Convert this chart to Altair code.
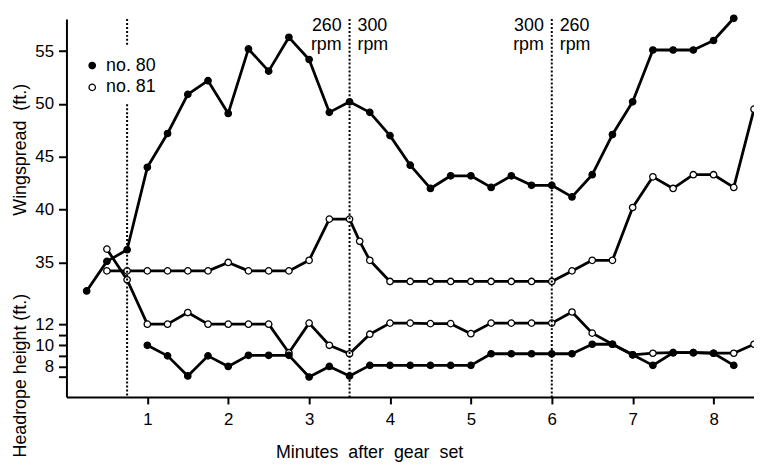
import altair as alt
import pandas as pd

# ---------------- data ----------------
# shift that places headrope feet on the shared (broken) vertical scale
HEAD_OFFSET = 17.16

# Wingspread (ft.) of net no. 80 (filled circles)
w80_min = [0.25, 0.5, 0.75, 1.0, 1.25, 1.5, 1.75, 2.0, 2.25, 2.5, 2.75, 3.0, 3.25, 3.5, 3.75, 4.0, 4.25,
           4.5, 4.75, 5.0, 5.25, 5.5, 5.75, 6.0, 6.25, 6.5, 6.75, 7.0, 7.25, 7.5, 7.75, 8.0, 8.25]
w80_ft = [32.3, 35.1, 36.2, 44.0, 47.2, 50.9, 52.2, 49.1, 55.2, 53.1, 56.3, 54.2, 49.2, 50.2, 49.2, 47.0, 44.2,
          42.0, 43.2, 43.2, 42.1, 43.2, 42.3, 42.3, 41.2, 43.3, 47.1, 50.2, 55.1, 55.1, 55.1, 56.0, 58.1]

# Wingspread (ft.) of net no. 81 (open circles)
w81_min = [0.5, 0.75, 1.0, 1.25, 1.5, 1.75, 2.0, 2.25, 2.5, 2.75, 3.0, 3.25, 3.5, 3.625, 3.75, 4.0, 4.25,
           4.5, 4.75, 5.0, 5.25, 5.5, 5.75, 6.0, 6.25, 6.5, 6.75, 7.0, 7.25, 7.5, 7.75, 8.0, 8.25, 8.5]
w81_ft = [34.2, 34.2, 34.2, 34.2, 34.2, 34.2, 35.0, 34.2, 34.2, 34.2, 35.2, 39.1, 39.1, 37.0, 35.2, 33.2, 33.2,
          33.2, 33.2, 33.2, 33.2, 33.2, 33.2, 33.2, 34.2, 35.2, 35.2, 40.2, 43.1, 42.0, 43.3, 43.3, 42.1, 49.5]

# Headrope height (ft.) of net no. 80
h80_min = [1.0, 1.25, 1.5, 1.75, 2.0, 2.25, 2.5, 2.75, 3.0, 3.25, 3.5, 3.75, 4.0, 4.25, 4.5,
           4.75, 5.0, 5.25, 5.5, 5.75, 6.0, 6.25, 6.5, 6.75, 7.0, 7.25, 7.5, 7.75, 8.0, 8.25]
h80_ft = [10.0, 9.0, 7.1, 9.0, 8.0, 9.05, 9.05, 9.05, 7.0, 8.0, 7.1, 8.1, 8.1, 8.1, 8.1,
          8.1, 8.1, 9.2, 9.2, 9.2, 9.2, 9.2, 10.1, 10.1, 9.1, 8.1, 9.3, 9.3, 9.25, 8.1]

# Headrope height (ft.) of net no. 81
h81_min = [0.5, 0.75, 1.0, 1.25, 1.5, 1.75, 2.0, 2.25, 2.5, 2.75, 3.0, 3.25, 3.5, 3.75, 4.0, 4.25, 4.5,
           4.75, 5.0, 5.25, 5.5, 5.75, 6.0, 6.25, 6.5, 6.75, 7.0, 7.25, 7.5, 7.75, 8.0, 8.25, 8.5]
h81_ft = [19.1, 16.2, 12.0, 12.0, 13.1, 12.0, 12.0, 12.0, 12.0, 9.3, 12.1, 10.0, 9.2, 11.05, 12.1, 12.1, 12.05,
          12.05, 11.1, 12.1, 12.1, 12.1, 12.1, 13.15, 11.15, 10.1, 9.1, 9.25, 9.3, 9.3, 9.25, 9.25, 10.1]

series_names = ["no. 80", "no. 81"]
minute_ticks = [1, 2, 3, 4, 5, 6, 7, 8]
wing_ticks = [35, 40, 45, 50, 55]
head_ticks = [7, 8, 9, 10, 11, 12]
head_labelled = [8, 10, 12]

gear_marker_min = [0.75]
rpm_change_min = [3.5, 6.0]
rpm_before = ["260\nrpm", "300\nrpm"]
rpm_after = ["300\nrpm", "260\nrpm"]

NB = "\u00a0"
x_title = f"Minutes {NB}after {NB}gear {NB}set"
wing_title = f"Wingspread {NB}(ft.)"
head_title = "Headrope height (ft.)"

# ---------------- tables ----------------
Y_LO, Y_HI = 22.27, 58.03
LEGEND_GAP = (55.4, 49.97)

rows = []
for name, kind, xs, vs in [("no. 81", "wing", w81_min, w81_ft), ("no. 81", "head", h81_min, h81_ft),
                           ("no. 80", "wing", w80_min, w80_ft), ("no. 80", "head", h80_min, h80_ft)]:
    for xv, v in zip(xs, vs):
        rows.append({"series": name, "kind": kind, "line": name + " " + kind, "minute": xv, "ft": v,
                     "pos": v + (HEAD_OFFSET if kind == "head" else 0.0)})
df = pd.DataFrame(rows)

rule_rows = []
for m in gear_marker_min:
    rule_rows.append({"minute": m, "pos": Y_HI, "bottom": LEGEND_GAP[0]})
    rule_rows.append({"minute": m, "pos": LEGEND_GAP[1], "bottom": Y_LO})
for m in rpm_change_min:
    rule_rows.append({"minute": m, "pos": Y_HI, "bottom": Y_LO})
rules_df = pd.DataFrame(rule_rows)

before_df = pd.DataFrame({"minute": rpm_change_min, "label": rpm_before})
after_df = pd.DataFrame({"minute": rpm_change_min, "label": rpm_after})

y_values = [t + HEAD_OFFSET for t in head_ticks] + wing_ticks
conds = " : ".join(
    f"abs(datum.value - {t + HEAD_OFFSET:.2f}) < 0.05 ? '{t}'" for t in head_labelled)
label_expr = f"datum.value >= 30 ? format(datum.value, 'd') : {conds} : ''"

FONT = "Liberation Sans"

x_scale = alt.Scale(domain=[0, 8.5], nice=False, zero=False)
y_scale = alt.Scale(domain=[Y_LO, Y_HI], nice=False, zero=False)
x_axis = alt.Axis(values=minute_ticks, title=None, format="d", labelOverlap=False)
y_axis = alt.Axis(values=y_values, labelExpr=label_expr, title=None, labelOverlap=False)

x_enc = alt.X("minute:Q", scale=x_scale, axis=x_axis)
y_enc = alt.Y("pos:Q", scale=y_scale, axis=y_axis)

rules = alt.Chart(rules_df).mark_rule(color="black", strokeWidth=2, strokeDash=[2, 2]).encode(
    x=x_enc, y=y_enc, y2="bottom:Q",
)

lines = alt.Chart(df).mark_line(color="black", strokeWidth=2.8, strokeJoin="round").encode(
    x=x_enc, y=y_enc, detail="line:N", order="minute:Q"
)

points = alt.Chart(df).mark_point(shape="circle", filled=True, stroke="black", strokeWidth=1.3,
                                  size=42, opacity=1).encode(
    x=x_enc, y=y_enc,
    fill=alt.Fill("series:N", scale=alt.Scale(domain=series_names, range=["black", "white"]),
                  legend=alt.Legend(orient="none", legendX=17, legendY=38, title=None,
                                    labelFontSize=18, labelFont=FONT, labelColor="black",
                                    symbolType="circle", symbolSize=42,
                                    symbolStrokeColor="black", symbolStrokeWidth=1.3,
                                    rowPadding=4, labelOffset=5, padding=0)),
)

before_txt = alt.Chart(before_df).mark_text(align="right", dx=-8, baseline="alphabetic", fontSize=18,
                                             lineBreak="\n", lineHeight=19, font=FONT,
                                             color="black").encode(
    x=x_enc, y=alt.value(12), text="label:N")
after_txt = alt.Chart(after_df).mark_text(align="left", dx=8, baseline="alphabetic", fontSize=18,
                                          lineBreak="\n", lineHeight=19, font=FONT,
                                          color="black").encode(
    x=x_enc, y=alt.value(12), text="label:N")

def title_text(txt, x, y, angle=0):
    props = dict(fontSize=18, font=FONT, color="black", align="center", baseline="middle")
    if angle:
        props["angle"] = angle
    return alt.Chart(pd.DataFrame({"t": [txt]})).mark_text(**props).encode(
        x=alt.value(x), y=alt.value(y), text="t:N")

xt = title_text(x_title, 306, 438)
wt = title_text(wing_title, -46, 132, 270)
ht = title_text(head_title, -46, 360, 270)

chart = alt.layer(lines, points, rules, before_txt, after_txt, xt, wt, ht).properties(
    width=694, height=381.5,
    autosize=alt.AutoSizeParams(type="none"),
    padding={"left": 59, "top": 9, "right": 0, "bottom": 65},
).configure(font=FONT).configure_view(stroke=None).configure_axis(
    domainColor="black", domainWidth=2, tickColor="black", tickWidth=2,
    labelColor="black", labelFont=FONT, labelFontSize=17, grid=False, labelOverlap=False,
).configure_axisX(tickSize=7, labelPadding=8).configure_axisY(tickSize=8, labelPadding=5)

chart.save("out.html", embed_options={"renderer": "svg", "actions": False})
